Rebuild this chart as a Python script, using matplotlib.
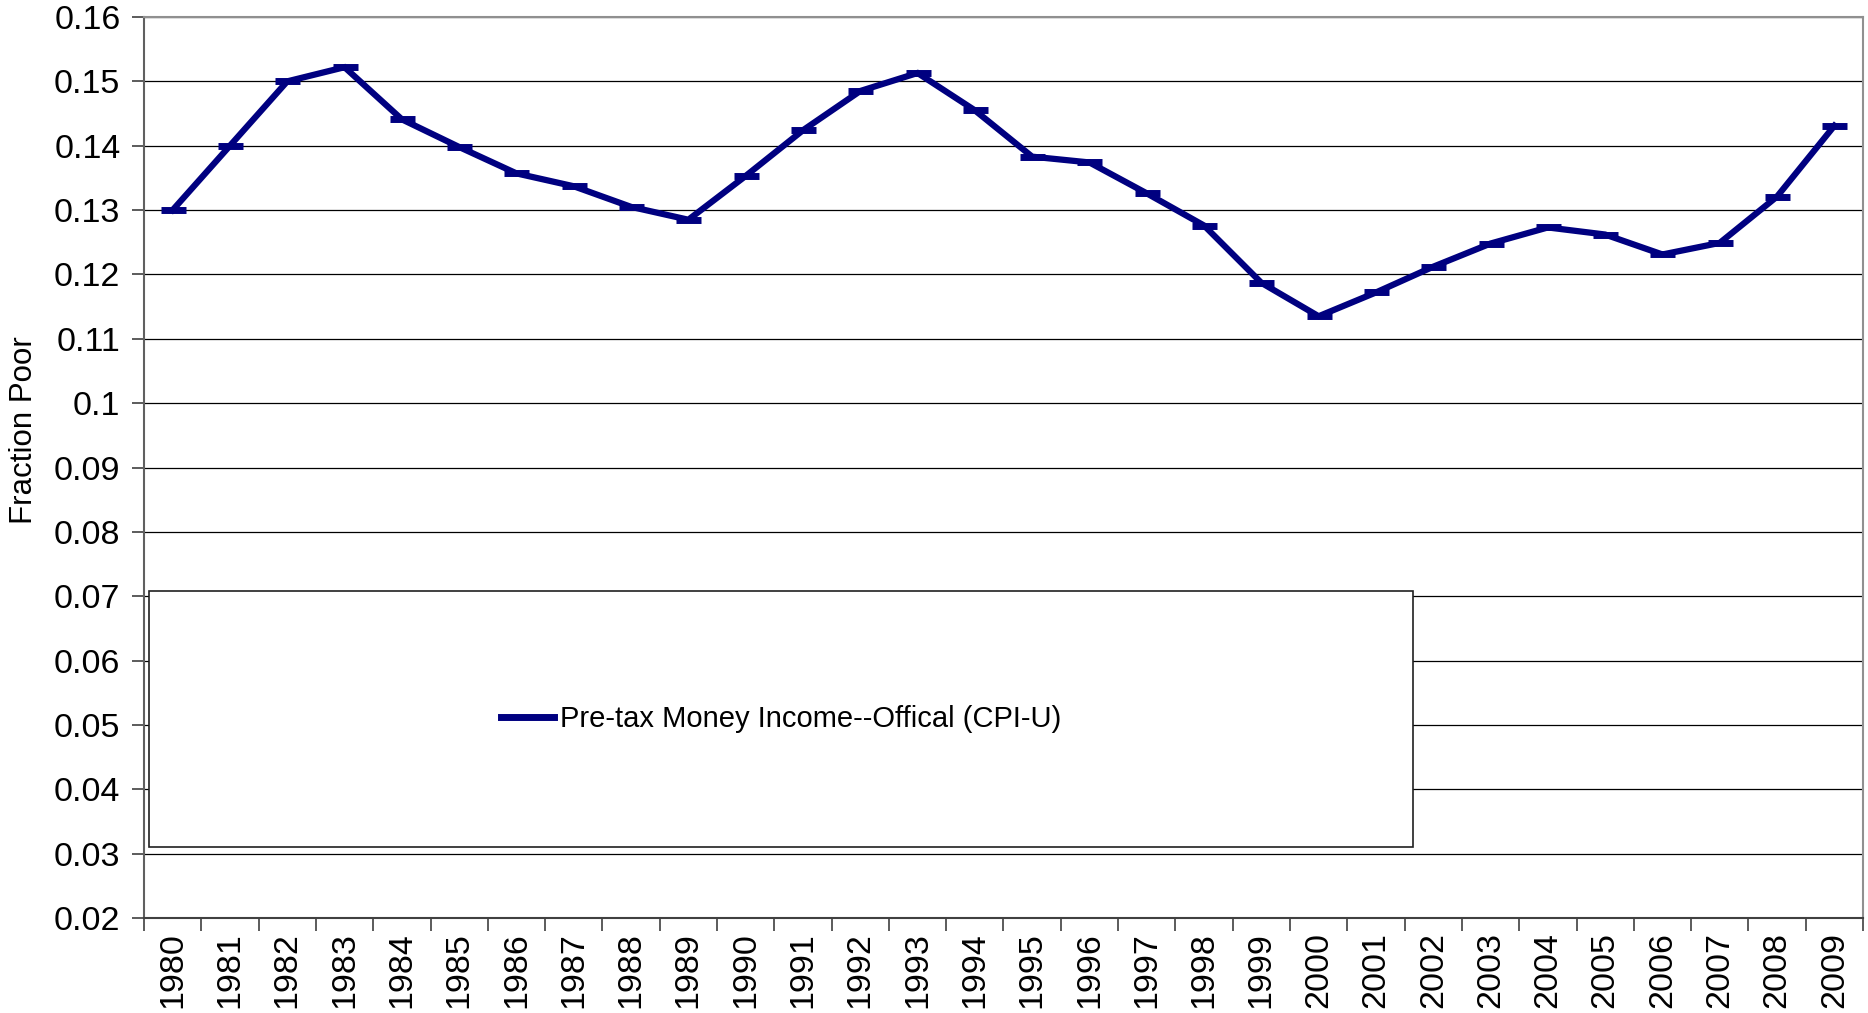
import matplotlib
matplotlib.use("Agg")
import matplotlib.pyplot as plt
from matplotlib.patches import Rectangle
from matplotlib.lines import Line2D

plt.rcParams['font.family'] = ['Liberation Sans', 'DejaVu Sans']

years = [str(y) for y in range(1980, 2010)]
fraction_poor = [0.130, 0.140, 0.150, 0.1522, 0.1441, 0.1398, 0.1357, 0.1337, 0.1305, 0.1285,
                 0.1353, 0.1424, 0.1485, 0.1513, 0.1455, 0.1383, 0.1374, 0.1326, 0.1276, 0.1187,
                 0.1135, 0.1172, 0.1212, 0.1248, 0.1273, 0.1262, 0.1231, 0.1249, 0.1321, 0.1431]
series_label = "Pre-tax Money Income--Offical (CPI-U)"
y_ticks = [0.02, 0.03, 0.04, 0.05, 0.06, 0.07, 0.08, 0.09, 0.10, 0.11, 0.12, 0.13, 0.14, 0.15, 0.16]
y_tick_labels = ['0.02', '0.03', '0.04', '0.05', '0.06', '0.07', '0.08', '0.09', '0.1', '0.11',
                 '0.12', '0.13', '0.14', '0.15', '0.16']

W, H = 1868, 1013
fig = plt.figure(figsize=(W / 100, H / 100), dpi=100)
L, R, T, B = 144, 1863, 17, 918
ax = fig.add_axes([L / W, 1 - B / H, (R - L) / W, (B - T) / H])

navy = '#000080'
x = list(range(len(years)))
ax.plot(x, fraction_poor, color=navy, lw=4.5, marker='_', markersize=18, mew=5,
        solid_joinstyle='miter', zorder=5)

ax.set_xlim(-0.5, len(years) - 0.5)
ax.set_ylim(0.02, 0.16)
ax.set_yticks(y_ticks)
ax.set_yticklabels(y_tick_labels, fontsize=24.5)
ax.yaxis.grid(True, color='black', lw=0.9)
ax.set_axisbelow(True)

ax.set_xticks(x)
ax.set_xticklabels(years, rotation=90, fontsize=24.5)
ax.tick_params(axis='x', which='major', length=0, pad=10)
ax.set_xticks([i - 0.5 for i in range(len(years) + 1)], minor=True)
ax.tick_params(axis='x', which='minor', length=9, width=1.2, color='#404040')
ax.tick_params(axis='y', length=9, width=1.2, color='#404040', pad=8)

for s in ['top', 'right']:
    ax.spines[s].set_color('#909090')
    ax.spines[s].set_linewidth(1.5)
ax.spines['left'].set_color('#606060')
ax.spines['left'].set_linewidth(1.5)
ax.spines['bottom'].set_color('#404040')
ax.spines['bottom'].set_linewidth(1.5)

ax.set_ylabel('Fraction Poor', fontsize=22.5)
ax.yaxis.set_label_coords(-0.061, 0.542)

# legend box
bx0, bx1 = (149 - L) / (R - L), (1413 - L) / (R - L)
by0, by1 = (B - 847) / (B - T), (B - 591) / (B - T)
ax.add_patch(Rectangle((bx0, by0), bx1 - bx0, by1 - by0, transform=ax.transAxes,
                       facecolor='white', edgecolor='#202020', lw=1.2, zorder=6))
handle = Line2D([], [], color=navy, lw=5)
ax.legend([handle], [series_label], loc='center', frameon=False, fontsize=21,
          bbox_to_anchor=(bx0, by0, bx1 - bx0, by1 - by0), bbox_transform=ax.transAxes,
          handlelength=1.8, handletextpad=0.2).set_zorder(7)

fig.savefig('out.png', dpi=100)
